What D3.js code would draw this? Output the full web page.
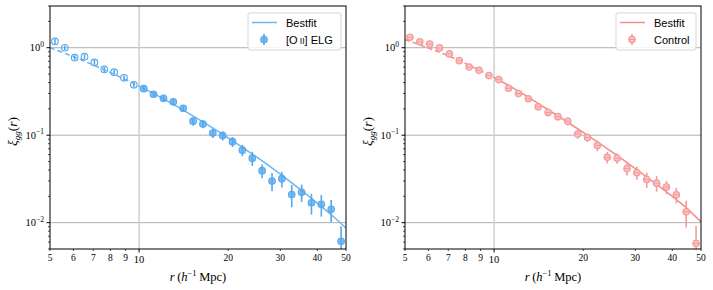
<!DOCTYPE html>
<html>
<head>
<meta charset="utf-8">
<script src="https://cdn.jsdelivr.net/npm/d3@7"></script>
<style>
  body { margin: 0; background: #fff; }
  text { font-family: "Liberation Serif", "DejaVu Serif", serif; }
  .leg text { font-family: "Liberation Sans", Arial, sans-serif; }
</style>
</head>
<body>
<div id="chart"></div>
<script>
// bin centres (h^-1 Mpc)
const rBins = [5.196, 5.610, 6.058, 6.541, 7.063, 7.626, 8.234, 8.891, 9.601, 10.37,
  11.19, 12.09, 13.05, 14.09, 15.22, 16.43, 17.74, 19.16, 20.68, 22.33,
  24.12, 26.04, 28.12, 30.36, 32.78, 35.40, 38.22, 41.27, 44.56, 48.12];

// [O II] ELG
const elgXi = [1.18, 1.00, 0.77, 0.79, 0.68, 0.565, 0.526, 0.453, 0.377, 0.34,
  0.294, 0.264, 0.241, 0.203, 0.1445, 0.134, 0.106, 0.099, 0.0843, 0.0675,
  0.0546, 0.0393, 0.0299, 0.0318, 0.0210, 0.0222, 0.0169, 0.0162, 0.0142, 0.00612];
const elgErr = [0.08, 0.06, 0.05, 0.05, 0.045, 0.04, 0.035, 0.03, 0.025, 0.022,
  0.02, 0.018, 0.018, 0.016, 0.016, 0.014, 0.013, 0.012, 0.011, 0.010,
  0.010, 0.007, 0.007, 0.0065, 0.006, 0.005, 0.0045, 0.0045, 0.004, 0.003];

// Control
const ctrlXi = [1.32, 1.17, 1.10, 0.995, 0.85, 0.712, 0.601, 0.552, 0.480, 0.432,
  0.344, 0.299, 0.261, 0.211, 0.182, 0.163, 0.1445, 0.103, 0.094, 0.0763,
  0.056, 0.0546, 0.0417, 0.0372, 0.0312, 0.0283, 0.0256, 0.0208, 0.0133, 0.00577];
const ctrlErr = [0.09, 0.08, 0.075, 0.065, 0.055, 0.045, 0.04, 0.036, 0.032, 0.028,
  0.023, 0.02, 0.019, 0.017, 0.018, 0.016, 0.016, 0.012, 0.010, 0.011,
  0.0085, 0.0075, 0.007, 0.0063, 0.0062, 0.0057, 0.0044, 0.0042, 0.0045, 0.0034];

// best-fit curves
const fitR = [5, 6, 7, 8, 10, 12, 15, 20, 25, 30, 35, 40, 45, 50];
const elgFit = [1.0, 0.789, 0.636, 0.52, 0.364, 0.264, 0.171, 0.0935, 0.056, 0.0358, 0.024, 0.0167, 0.012, 0.0087];
const ctrlFit = [1.237, 0.993, 0.807, 0.661, 0.457, 0.324, 0.202, 0.1075, 0.0643, 0.0415, 0.0282, 0.01995, 0.0144, 0.0102];

const xTicks = [5, 6, 7, 8, 9, 10, 20, 30, 40, 50];
const yMajor = [1, 0.1, 0.01];
const yMajorExp = ["0", "\u22121", "\u22122"];
const yMinor = [0.005, 0.006, 0.007, 0.008, 0.009, 0.02, 0.03, 0.04, 0.05, 0.06, 0.07, 0.08, 0.09,
  0.2, 0.3, 0.4, 0.5, 0.6, 0.7, 0.8, 0.9, 2, 3];

const W = 296, H = 243;

const svg = d3.select("#chart").append("svg")
  .attr("width", 713).attr("height", 290);

const x = d3.scaleLog().domain([5, 50]).range([0, W]);
const y = d3.scaleLog().domain([0.005, 3]).range([H, 0]);

function panel(left, xi, err, fit, col, fillCol, label, kind) {
  const g = svg.append("g").attr("transform", `translate(${left},6)`);

  // grid
  g.selectAll(".hg").data(yMajor).join("line")
    .attr("x1", 0).attr("x2", W).attr("y1", d => y(d)).attr("y2", d => y(d))
    .attr("stroke", "#b0b0b0").attr("stroke-width", 1);
  g.append("line").attr("x1", x(10)).attr("x2", x(10)).attr("y1", 0).attr("y2", H)
    .attr("stroke", "#cfcfcf").attr("stroke-width", 1.5);

  const clip = "clip" + left;
  g.append("clipPath").attr("id", clip).append("rect").attr("width", W).attr("height", H);
  const pg = g.append("g").attr("clip-path", `url(#${clip})`);

  // fit line: dashed below 10, solid above
  const pts = fitR.map((r, i) => [r, fit[i]]);
  const line = d3.line().x(d => x(d[0])).y(d => y(d[1])).curve(d3.curveMonotoneX);
  pg.append("path").attr("d", line(pts.filter(d => d[0] <= 10)))
    .attr("fill", "none").attr("stroke", col).attr("stroke-width", 1.5)
    .attr("stroke-dasharray", "5,3");
  pg.append("path").attr("d", line(pts.filter(d => d[0] >= 10)))
    .attr("fill", "none").attr("stroke", col).attr("stroke-width", 1.5);

  const data = rBins.map((r, i) => ({ r, v: xi[i], e: err[i] }));
  pg.selectAll(".eb").data(data).join("line")
    .attr("x1", d => x(d.r)).attr("x2", d => x(d.r))
    .attr("y1", d => y(d.v + d.e)).attr("y2", d => y(Math.max(d.v - d.e, 0.001)))
    .attr("stroke", fillCol).attr("stroke-width", 1.6);

  drawMarkers(pg, data, kind, fillCol);

  // axes box
  g.append("rect").attr("width", W).attr("height", H)
    .attr("fill", "none").attr("stroke", "#000").attr("stroke-width", 1);

  // y ticks
  g.selectAll(".ymaj").data(yMajor).join("line")
    .attr("x1", -3.5).attr("x2", 0).attr("y1", d => y(d)).attr("y2", d => y(d))
    .attr("stroke", "#000");
  g.selectAll(".ymin").data(yMinor).join("line")
    .attr("x1", -2).attr("x2", 0).attr("y1", d => y(d)).attr("y2", d => y(d))
    .attr("stroke", "#000").attr("stroke-width", 0.7);
  const yl = g.selectAll(".ylab").data(yMajor).join("text")
    .attr("x", -6).attr("y", d => y(d) + 3.5)
    .attr("text-anchor", "end").attr("font-size", 10.5);
  yl.append("tspan").text("10");
  yl.append("tspan").attr("dy", -4.5).attr("font-size", 7.5).text((d, i) => yMajorExp[i]);

  // x ticks
  g.selectAll(".xt").data(xTicks).join("line")
    .attr("x1", d => x(d)).attr("x2", d => x(d))
    .attr("y1", H).attr("y2", d => d === 10 ? H + 3.5 : H + 2)
    .attr("stroke", "#000").attr("stroke-width", d => d === 10 ? 1 : 0.7);
  g.selectAll(".xl").data(xTicks).join("text")
    .attr("x", d => x(d)).attr("y", d => d === 10 ? H + 13.5 : H + 12)
    .attr("text-anchor", "middle").attr("font-size", d => d === 10 ? 10.5 : 9.5)
    .text(d => d);

  // axis labels
  const xlab = g.append("text").attr("x", W / 2).attr("y", H + 32)
    .attr("text-anchor", "middle").attr("font-size", 12.5);
  xlab.append("tspan").attr("font-style", "italic").text("r");
  xlab.append("tspan").text("\u2009(");
  xlab.append("tspan").attr("font-style", "italic").text("h");
  xlab.append("tspan").attr("dy", -5).attr("font-size", 8.5).text("\u22121");
  xlab.append("tspan").attr("dy", 5).text("\u2009Mpc)");

  const ylab = g.append("text").attr("transform", `translate(-33,${H / 2 + 4}) rotate(-90)`)
    .attr("text-anchor", "middle").attr("font-size", 13.5);
  ylab.append("tspan").attr("font-style", "italic").text("\u03be");
  ylab.append("tspan").attr("dy", 3).attr("font-size", 9).attr("font-style", "italic").text("gg");
  ylab.append("tspan").attr("dy", -3).text("(");
  ylab.append("tspan").attr("font-style", "italic").text("r");
  ylab.append("tspan").text(")");

  // legend
  const lw = kind === "elg" ? 93 : 80;
  const lg = g.append("g").attr("class", "leg").attr("transform", `translate(${W - 5 - lw},7)`);
  lg.append("rect").attr("width", lw).attr("height", 37).attr("rx", 2)
    .attr("fill", "#fff").attr("fill-opacity", 0.85).attr("stroke", "#d5d5d5");
  lg.append("line").attr("x1", 4).attr("x2", 29).attr("y1", 9.5).attr("y2", 9.5)
    .attr("stroke", col).attr("stroke-width", 1.5);
  lg.append("text").attr("x", 38).attr("y", 13.5).attr("font-size", 11).text("Bestfit");
  lg.append("line").attr("x1", 16).attr("x2", 16).attr("y1", 21).attr("y2", 32)
    .attr("stroke", fillCol).attr("stroke-width", 1.6);
  drawMarkers(lg, [{ r: null, v: null, lx: 16, ly: 26.5 }], kind === "elg" ? "legend" : kind, fillCol);
  const lt = lg.append("text").attr("x", 38).attr("y", 30.5).attr("font-size", 11);
  if (kind === "elg") {
    lt.append("tspan").text("[O\u2009");
    lt.append("tspan").attr("font-size", 8.5).text("II");
    lt.append("tspan").text("] ELG");
  } else {
    lt.text(label);
  }
}

function drawMarkers(sel, data, kind, c) {
  const px = d => d.lx !== undefined ? d.lx : x(d.r);
  const py = d => d.ly !== undefined ? d.ly : y(d.v);
  if (kind === "elg" || kind === "legend") {
    sel.selectAll(".mk").data(data).join("circle")
      .attr("cx", px).attr("cy", py).attr("r", 3.3)
      .attr("fill", d => (kind === "elg" && d.r < 10) ? "none" : c)
      .attr("fill-opacity", 0.75)
      .attr("stroke", c).attr("stroke-width", 1.1);
  } else {
    const m = sel.selectAll(".mk").data(data).join("g")
      .attr("transform", d => `translate(${px(d)},${py(d)})`);
    m.append("circle").attr("r", 3.2)
      .attr("fill", "#fbc4c4").attr("stroke", c).attr("stroke-width", 1.2);
    m.append("line").attr("x1", -3).attr("x2", 3).attr("y1", 0).attr("y2", 0)
      .attr("stroke", c).attr("stroke-width", 1);
  }
}

panel(50, elgXi, elgErr, elgFit, "#6db6f2", "#55a8ee", "[O II] ELG", "elg");
panel(405, ctrlXi, ctrlErr, ctrlFit, "#f48c8c", "#f59a9a", "Control", "ctrl");
</script>
</body>
</html>
